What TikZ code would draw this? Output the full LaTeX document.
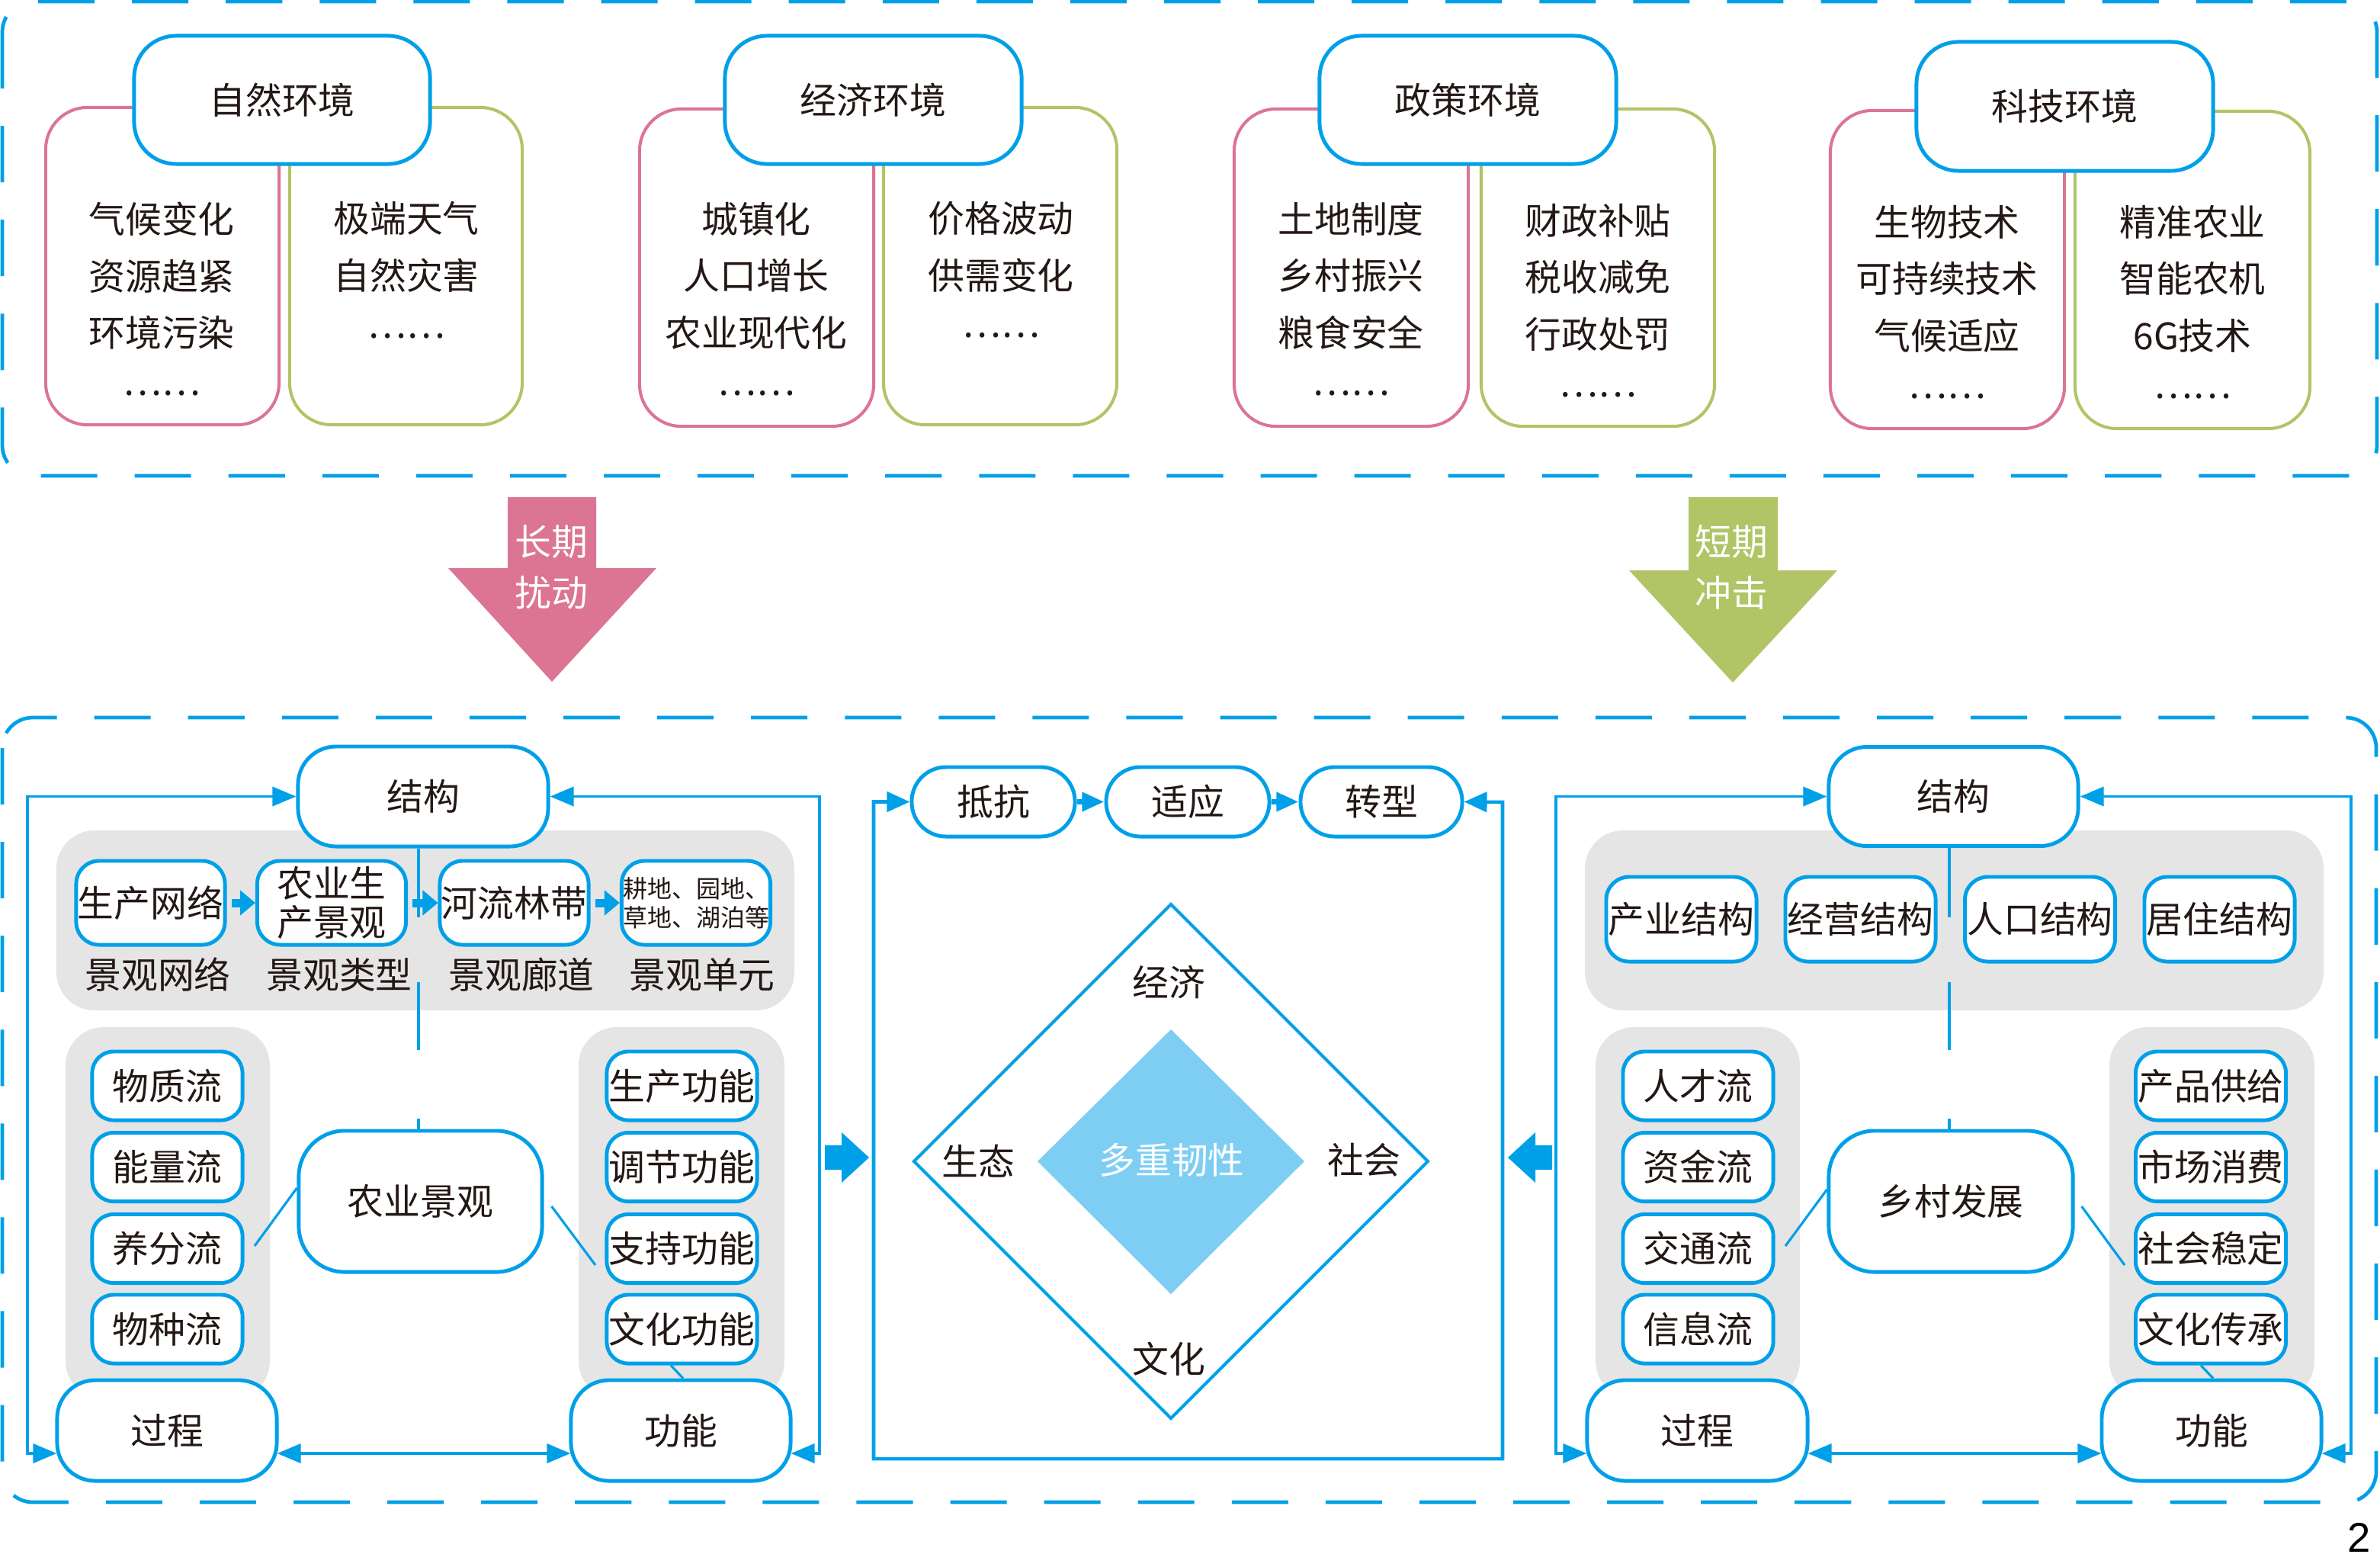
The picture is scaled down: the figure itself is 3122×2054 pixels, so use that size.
\documentclass[tikz,border=0pt]{standalone}
\usepackage{fontspec}
\newfontfamily\cjk{Noto Sans CJK SC}
\newfontfamily\numfont{Liberation Sans}
\usetikzlibrary{arrows.meta,calc}
\definecolor{cblue}{RGB}{0,160,233}
\definecolor{cpink}{RGB}{219,117,147}
\definecolor{cgreen}{RGB}{177,196,102}
\definecolor{cgrey}{RGB}{229,229,229}
\definecolor{cdia}{RGB}{126,206,244}
\definecolor{ctext}{RGB}{35,24,21}
\newcommand\ft{\cjk\fontsize{13.6pt}{21.26pt}\selectfont}
\newcommand\cst{\vphantom{国}}
\newcommand\mydots{\raisebox{0.23em}{……}\cst}
\begin{document}
\begin{tikzpicture}[x=0.01cm,y=-0.01cm,
  every node/.style={font=\ft, text=ctext, inner sep=0pt, align=center},
  hbox/.style={draw=cblue, line width=1.4pt, fill=white, rounded corners=0.55cm, minimum width=3.88cm, minimum height=1.68cm},
  pbox/.style={draw=cpink, line width=1.15pt, rounded corners=0.55cm, minimum width=3.06cm, minimum height=4.16cm},
  gbox/.style={draw=cgreen, line width=1.15pt, rounded corners=0.55cm, minimum width=3.06cm, minimum height=4.16cm},
  dashbox/.style={draw=cblue, line width=1.35pt, dash pattern=on 0.74cm off 0.49cm, rounded corners=0.4cm},
  bigbox/.style={draw=cblue, line width=1.4pt, fill=white, rounded corners=0.5cm},
  sbox/.style={draw=cblue, line width=1.4pt, fill=white, rounded corners=0.3cm, minimum width=1.95cm, minimum height=1.1cm},
  fbox/.style={draw=cblue, line width=1.4pt, fill=white, rounded corners=0.28cm, minimum width=1.97cm, minimum height=0.9cm},
  kbox/.style={draw=cblue, line width=1.4pt, fill=white, rounded corners=0.45cm, minimum width=2.14cm, minimum height=0.91cm},
  greybg/.style={fill=cgrey, rounded corners=0.5cm},
  lp/.style={draw=cblue, line width=1.1pt, {Triangle[length=0.31cm,width=0.25cm]}-{Triangle[length=0.31cm,width=0.25cm]}},
  lpm/.style={draw=cblue, line width=1.3pt, {Triangle[length=0.3cm,width=0.26cm]}-{Triangle[length=0.3cm,width=0.26cm]}},
  thinl/.style={draw=cblue, line width=0.9pt},
  vline/.style={draw=cblue, line width=1.1pt},
  blk/.style={draw=cblue, line width=0.11cm, -{Triangle[length=0.2cm,width=0.32cm]}},
  blkm/.style={draw=cblue, line width=0.067cm, -{Triangle[length=0.29cm,width=0.24cm]}},
]
\useasboundingbox (0,0) rectangle (3122,2054);

% ---------- top dashed frame ----------
\draw[dashbox] (3,2) rectangle (3118,624);

% group 1
\node[pbox] (p1) at (213,349) {};
\node[gbox, minimum width=3.05cm] (g1) at (532.5,349) {};
\node[hbox] (h1) at (370,131) {自然环境};
\node (t1a) at (212,399) {气候变化\\资源趋紧\\环境污染\\\mydots};
\node (t1b) at (533,361.5) {极端天气\\自然灾害\\\mydots};

% group 2
\node[pbox, minimum width=3.07cm] (p2) at (992.5,351) {};
\node[gbox] (g2) at (1312,349) {};
\node[hbox, minimum width=3.89cm] (h2) at (1145.5,131) {经济环境};
\node (t2a) at (992,399) {城镇化\\人口增长\\农业现代化\\\mydots};
\node (t2b) at (1313,361) {价格波动\\供需变化\\\mydots};

% group 3
\node[pbox, minimum width=3.07cm] (p3) at (1772.5,351) {};
\node[gbox] (g3) at (2096,351) {};
\node[hbox, minimum width=3.89cm] (h3) at (1925.5,131) {政策环境};
\node (t3a) at (1772,399) {土地制度\\乡村振兴\\粮食安全\\\mydots};
\node (t3b) at (2096,401) {财政补贴\\税收减免\\行政处罚\\\mydots};

% group 4
\node[pbox, minimum width=3.07cm, minimum height=4.17cm] (p4) at (2554.5,353.5) {};
\node[gbox, minimum width=3.08cm] (g4) at (2876,354) {};
\node[hbox, minimum width=3.89cm, minimum height=1.69cm] (h4) at (2708.5,139.5) {科技环境};
\node (t4a) at (2554,403) {生物技术\\可持续技术\\气候适应\\\mydots};
\node (t4b) at (2876,403) {精准农业\\智能农机\\6G技术\\\mydots};

% ---------- down arrows ----------
\fill[cpink] (666,652) -- (782,652) -- (782,745) -- (861,745) -- (724,894) -- (588,745) -- (666,745) -- cycle;
\node[text=white, font=\cjk\fontsize{13.6pt}{19pt}\selectfont] (ta) at (723,743.5) {长期\\扰动};
\fill[cgreen] (2215,652) -- (2332,652) -- (2332,748) -- (2410,748) -- (2273,895) -- (2137,748) -- (2215,748) -- cycle;
\node[text=white, font=\cjk\fontsize{13.6pt}{19pt}\selectfont] (tb) at (2271,744) {短期\\冲击};

% ---------- bottom dashed frame ----------
\draw[dashbox] (3,941) rectangle (3117,1970);

% ========== left section ==========
\fill[greybg] (74,1089) rectangle (1042,1325);
\fill[greybg] (86,1347) rectangle (354,1835);
\fill[greybg] (759,1347) rectangle (1029,1835);

\node[bigbox, minimum width=3.28cm, minimum height=1.31cm] (jsL) at (555,1044.5) {结构};
\draw[vline] ([xshift=-0.06cm]jsL.south) -- ++(0,90);
\coordinate (vL2) at (549,1288);
\draw[vline] (vL2) -- ++(0,89);

\node[sbox] (s1) at (197.5,1184) {生产网络};
\node[sbox, font=\cjk\fontsize{13.6pt}{14.7pt}\selectfont] (s2) at (435,1184) {农业生\\产景观};
\node[sbox] (s3) at (674.5,1184) {河流林带};
\node[sbox, font=\cjk\fontsize{9.1pt}{10.8pt}\selectfont] (s4) at (913,1184) {耕地、园地、\\草地、湖泊等};
\draw[blk] ([xshift=0.06cm]s1.east) -- (s2.west);
\draw[blk] ([xshift=0.06cm]s2.east) -- (s3.west);
\draw[blk] ([xshift=0.06cm]s3.east) -- (s4.west);
\node (l1) at (207,1278) {景观网络};
\node (l2) at (445,1278) {景观类型};
\node (l3) at (684,1278) {景观廊道};
\node (l4) at (921,1278) {景观单元};

\node[fbox] (f1) at (219.5,1424) {物质流};
\node[fbox] (f2) at (219.5,1530.5) {能量流};
\node[fbox] (f3) at (219.5,1637.5) {养分流};
\node[fbox] (f4) at (219.5,1743) {物种流};
\node[fbox] (u1) at (894.5,1424) {生产功能};
\node[fbox] (u2) at (894.5,1530.5) {调节功能};
\node[fbox] (u3) at (894.5,1637.5) {支持功能};
\node[fbox] (u4) at (894.5,1743) {文化功能};

\node[bigbox, rounded corners=0.6cm, minimum width=3.19cm, minimum height=1.85cm] (nlL) at (551.5,1575.5) {农业景观};
\draw[vline] ([xshift=-0.025cm]nlL.north) -- ++(0,-14);
\coordinate (eL1) at (334,1634);
\coordinate (eL2) at (781,1659);
\draw[thinl] ([yshift=0.175cm]nlL.west) -- (eL1);
\draw[thinl] ([shift={(0.1cm,-0.065cm)}]nlL.east) -- (eL2);

\node[bigbox, minimum width=2.88cm, minimum height=1.32cm] (gcL) at (219,1876) {过程};
\node[bigbox, minimum width=2.88cm, minimum height=1.32cm] (gnL) at (893,1876) {功能};
\draw[thinl] ([xshift=-0.145cm]u4.south) -- ([xshift=0.03cm]gnL.north);

\coordinate (cLB) at (36,1906);
\coordinate (cRB) at (1075,1906);
\draw[lp] (jsL.west) -| (cLB) -- ([xshift=0.02cm]gcL.west |- cLB);
\draw[lp] (jsL.east) -| (cRB) -- ([xshift=-0.02cm]gnL.east |- cRB);
\draw[lp] ([xshift=-0.02cm]gcL.east |- cLB) -- ([xshift=0.02cm]gnL.west |- cLB);

% ========== middle section ==========
\node[kbox] (k1) at (1303,1051.5) {抵抗};
\node[kbox] (k2) at (1558,1051.5) {适应};
\node[kbox, minimum width=2.12cm] (k3) at (1812,1051.5) {转型};
\draw[blkm] (k1.east) -- (k2.west);
\draw[blkm] (k2.east) -- (k3.west);
\coordinate (mLB) at (1146,1913);
\coordinate (mRT) at (1971,1052);
\draw[lpm] (k1.west) -| (mLB) -| (mRT) -- (k3.east);

\draw[cblue, line width=1.15pt] (1536,1186) -- (1873,1523) -- (1536,1860) -- (1199,1523) -- cycle;
\fill[cdia] (1536,1350) -- (1711,1523) -- (1536,1697) -- (1361,1523) -- cycle;
\node (d1) at (1533,1288) {经济};
\node (d2) at (1283,1523) {生态};
\node (d3) at (1789,1521) {社会};
\node (d4) at (1533,1782) {文化};
\node[text=white] (d0) at (1537,1521) {多重韧性};

% side block arrows
\fill[cblue] (1082,1502) -- (1104,1502) -- (1104,1485) -- (1140,1518) -- (1104,1551) -- (1104,1534) -- (1082,1534) -- cycle;
\fill[cblue] (2036,1502) -- (2014,1502) -- (2014,1485) -- (1978,1518) -- (2014,1551) -- (2014,1534) -- (2036,1534) -- cycle;

% ========== right section ==========
\fill[greybg] (2079,1089) rectangle (3048,1325);
\fill[greybg] (2093,1347) rectangle (2361,1835);
\fill[greybg] (2767,1347) rectangle (3036,1835);

\node[bigbox, minimum width=3.27cm, minimum height=1.30cm] (jsR) at (2562.5,1044.5) {结构};
\draw[vline] ([xshift=-0.055cm]jsR.south) -- ++(0,91);
\coordinate (vR2) at (2557,1288);
\draw[vline] (vR2) -- ++(0,89);

\node[sbox, minimum width=1.97cm, minimum height=1.11cm] (r1) at (2205.5,1205.5) {产业结构};
\node[sbox, minimum width=1.97cm, minimum height=1.11cm] (r2) at (2440.5,1205.5) {经营结构};
\node[sbox, minimum width=1.97cm, minimum height=1.11cm] (r3) at (2676,1205.5) {人口结构};
\node[sbox, minimum width=1.97cm, minimum height=1.11cm] (r4) at (2911.5,1205.5) {居住结构};

\node[fbox] (q1) at (2227.5,1424) {人才流};
\node[fbox] (q2) at (2227.5,1530.5) {资金流};
\node[fbox] (q3) at (2227.5,1637.5) {交通流};
\node[fbox] (q4) at (2227.5,1743) {信息流};
\node[fbox] (w1) at (2900,1424) {产品供给};
\node[fbox] (w2) at (2900,1530.5) {市场消费};
\node[fbox] (w3) at (2900,1637.5) {社会稳定};
\node[fbox] (w4) at (2900,1743) {文化传承};

\node[bigbox, rounded corners=0.6cm, minimum width=3.20cm, minimum height=1.85cm] (nlR) at (2559,1575.5) {乡村发展};
\draw[vline] ([xshift=-0.02cm]nlR.north) -- ++(0,-14);
\coordinate (eR1) at (2342,1634);
\coordinate (eR2) at (2787,1659);
\draw[thinl] ([yshift=0.155cm]nlR.west) -- (eR1);
\draw[thinl] ([shift={(0.09cm,-0.065cm)}]nlR.east) -- (eR2);

\node[bigbox, minimum width=2.89cm, minimum height=1.32cm] (gcR) at (2226.5,1876) {过程};
\node[bigbox, minimum width=2.88cm, minimum height=1.32cm] (gnR) at (2901,1876) {功能};
\draw[thinl] ([xshift=-0.13cm]w4.south) -- ([xshift=0.02cm]gnR.north);

\coordinate (dLB) at (2041,1906);
\coordinate (dRB) at (3084,1906);
\draw[lp] (jsR.west) -| (dLB) -- ([xshift=0.02cm]gcR.west |- dLB);
\draw[lp] (jsR.east) -| (dRB) -- ([xshift=-0.02cm]gnR.east |- dRB);
\draw[lp] ([xshift=-0.02cm]gcR.east |- dLB) -- ([xshift=0.02cm]gnR.west |- dLB);

% page number
\node[font=\numfont\fontsize{15.5pt}{16pt}\selectfont, text=black] (pg) at (3095,2016) {2};
\end{tikzpicture}
\end{document}
